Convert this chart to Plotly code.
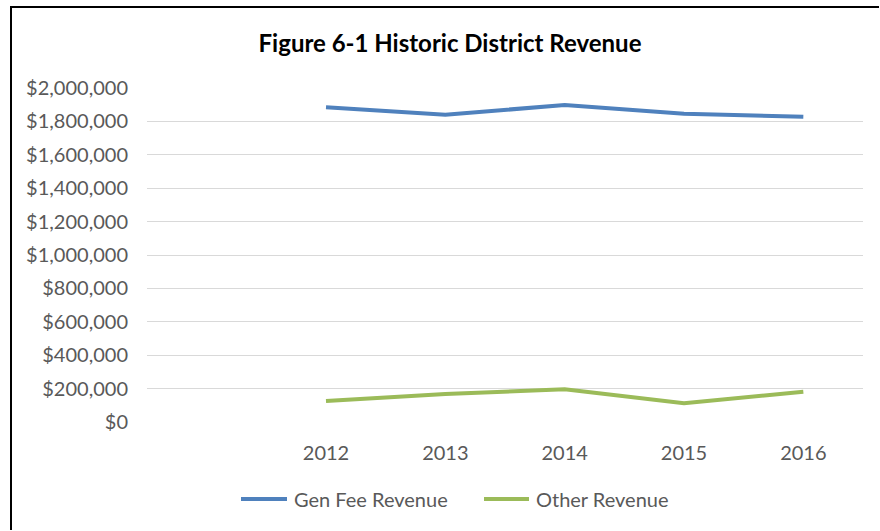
import plotly.graph_objects as go

years = [2012, 2013, 2014, 2015, 2016]
gen_fee = [1884000, 1840000, 1898000, 1846000, 1828000]
other = [126000, 168000, 196000, 112000, 181000]
series_names = ["Gen Fee Revenue", "Other Revenue"]
series_colors = ["#4F81BD", "#9BBB59"]
y_ticks = list(range(0, 2000001, 200000))
y_labels = ["${:,}".format(v) for v in y_ticks]

W, H = 880, 531
L, R, T, B = 147, 17, 88, 109
pw, ph = W - L - R, H - T - B

def px_x(p):
    return (p - L) / pw

def px_y(p):
    return (H - B - p) / ph

FONT = "Lato, Open Sans, sans-serif"

fig = go.Figure()
for name, vals, col in zip(series_names, [gen_fee, other], series_colors):
    fig.add_trace(go.Scatter(x=years, y=vals, mode="lines", name=name,
                             line=dict(color=col, width=4)))

# manual legend (line sample + label)
legend_pos = [(239, 289), (482, 531)]
shapes = []
annotations = []
for (x0, x1), name, col in zip(legend_pos, series_names, series_colors):
    shapes.append(dict(type="line", xref="paper", yref="paper",
                       x0=px_x(x0 + 2), x1=px_x(x1 - 2), y0=px_y(499), y1=px_y(499),
                       line=dict(color=col, width=4)))
    annotations.append(dict(text=name, xref="paper", yref="paper", x=px_x(x1 + 3), y=px_y(499),
                            xanchor="left", yanchor="middle", showarrow=False,
                            font=dict(size=20, color="#595959", family=FONT)))

# chart border (top and left edges visible)
shapes.append(dict(type="line", xref="paper", yref="paper", x0=px_x(10), x1=px_x(879),
                   y0=px_y(7), y1=px_y(7), line=dict(color="black", width=2)))
shapes.append(dict(type="line", xref="paper", yref="paper", x0=px_x(11), x1=px_x(11),
                   y0=px_y(6), y1=px_y(530), line=dict(color="black", width=2)))

fig.update_layout(
    width=W, height=H,
    margin=dict(l=L, r=R, t=T, b=B, autoexpand=False),
    paper_bgcolor="white", plot_bgcolor="white",
    font=dict(family=FONT, color="#595959", size=20),
    title=dict(text="<b>Figure 6-1 Historic District Revenue</b>",
               x=450 / W, xanchor="center", y=1 - 44 / H, yanchor="middle",
               font=dict(size=24, color="#000000", family=FONT)),
    xaxis=dict(range=[2010.5, 2016.5], tickvals=years, ticktext=[str(y) for y in years],
               showgrid=False, zeroline=False, showline=False, ticks="",
               tickfont=dict(size=20, color="#595959"), ticklabelstandoff=17),
    yaxis=dict(range=[0, 2000000], tickvals=y_ticks, ticktext=y_labels,
               showgrid=True, gridcolor="#D9D9D9", gridwidth=1,
               zeroline=False, showline=False, ticks="",
               tickfont=dict(size=20, color="#595959"), ticklabelstandoff=18),
    showlegend=False,
    shapes=shapes,
    annotations=annotations,
)

fig.write_html("out.html", config={"displayModeBar": False},
               post_script="document.body.style.margin='0';document.body.style.overflow='hidden';"
                           "document.documentElement.style.overflow='hidden';")
